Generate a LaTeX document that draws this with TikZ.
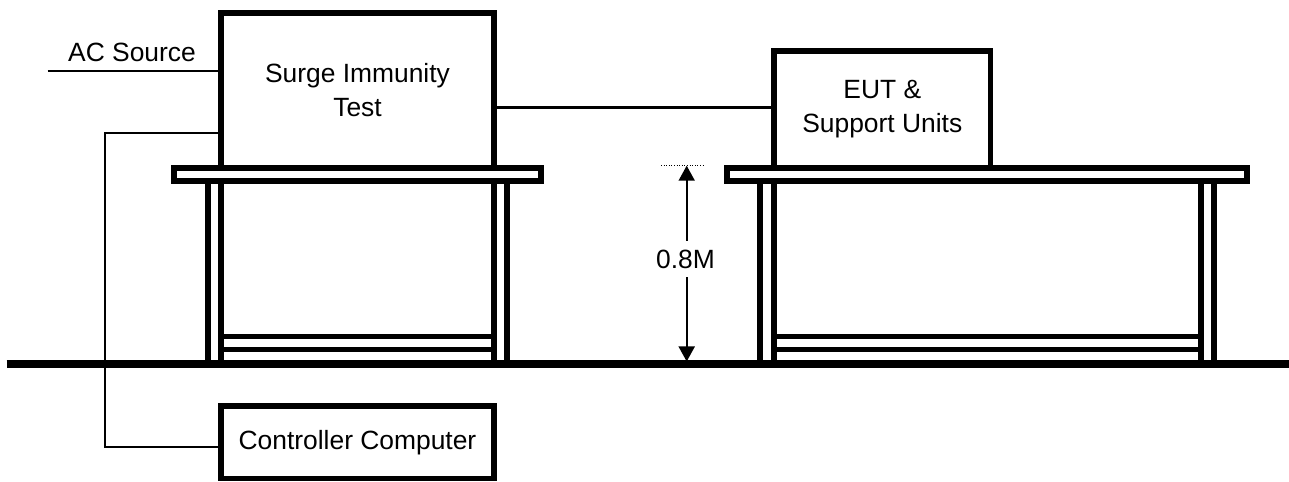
\documentclass[tikz,border=0pt]{standalone}
\usepackage{fontspec}
\setmainfont{Liberation Sans}
\usetikzlibrary{arrows.meta,calc}
\begin{document}
\begin{tikzpicture}[x=1bp,y=-1bp,
  thick line/.style={line width=5.5bp},
  wire/.style={line width=2.2bp},
  box/.style={draw,thick line,inner sep=0pt,align=center,font=\fontsize{26.5}{34}\selectfont},
  lbl/.style={inner sep=0pt,font=\fontsize{26.5}{34}\selectfont},
  dimarrow/.style={line width=1.8bp,{Triangle[width=16bp,length=15bp]}-{Triangle[width=16bp,length=15bp]}},
  dotline/.style={line width=1bp,dash pattern=on 1bp off 1.6bp}
]
\useasboundingbox (0,0) rectangle (1289,482);
% floor
\coordinate (floorL) at (6.7,364);
\coordinate (floorR) at (1289,364);
\draw[line width=7.5bp] (floorL) -- (floorR);
% left table
\draw[thick line] (173.8,167.8) rectangle (541.2,181.2);
\foreach \xx in {208,221,494,507} \draw[thick line] (\xx,181.2) -- (\xx,362);
\foreach \yy in {336.7,349.5} \draw[thick line] (221,\yy) -- (494,\yy);
% right table
\draw[thick line] (727,167.8) rectangle (1247.2,181.2);
\foreach \xx in {760,774,1201,1214} \draw[thick line] (\xx,181.2) -- (\xx,362);
\foreach \yy in {336.7,349.5} \draw[thick line] (774,\yy) -- (1201,\yy);
% boxes
\node[box,minimum width=273bp,minimum height=155bp] (surge) at (357.5,90.5) {Surge Immunity\\Test};
\node[box,minimum width=216.7bp,minimum height=117bp] (eut) at (882.3,109.5) {EUT \&\\Support Units};
\node[box,minimum width=273bp,minimum height=72.5bp] (ctrl) at (357.5,442.3) {Controller Computer};
% AC source
\node[lbl] (aclabel) at (132,52) {AC Source};
\coordinate (acend) at (47.5,71);
\draw[wire] (acend) -- (acend -| surge.west);
% surge to EUT
\coordinate (link) at (600,107.5);
\draw[wire] (link -| surge.east) -- (link -| eut.west);
% surge to controller
\coordinate (cbend1) at (105,133);
\coordinate (cbend2) at (105,447);
\draw[wire] (cbend1 -| surge.west) -- (cbend1) -- (cbend2) -- (cbend2 -| ctrl.west);
% dimension
\coordinate (dimtop) at (686.7,165.7);
\coordinate (dimbot) at (686.7,361.5);
\coordinate (dotL) at (661,165.7);
\coordinate (dotR) at (703,165.7);
\draw[dotline] (dotL) -- (dotR);
\draw[dimarrow] (dimtop) -- (dimbot);
\node[lbl,fill=white,inner xsep=2bp,inner ysep=8.5bp] (dimlabel) at (685.5,259) {0.8M};
\end{tikzpicture}
\end{document}
